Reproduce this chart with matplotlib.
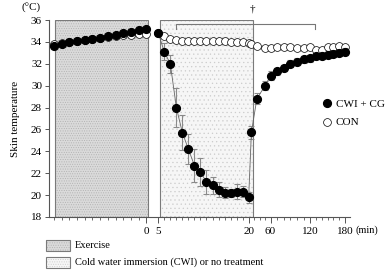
import numpy as np
import matplotlib
matplotlib.use("Agg")
import matplotlib.pyplot as plt
from matplotlib.patches import Rectangle
from matplotlib.lines import Line2D

plt.rcParams['font.family'] = ['Liberation Serif', 'DejaVu Serif']
plt.rcParams['hatch.linewidth'] = 0.4

# exercise phase (min, relative to end of exercise)
ex_time = [-60, -55, -50, -45, -40, -35, -30, -25, -20, -15, -10, -5, 0]
ex_cwi = [33.6, 33.8, 33.95, 34.05, 34.15, 34.25, 34.4, 34.5, 34.6, 34.8, 34.9, 35.05, 35.2]
ex_con = [33.8, 33.9, 34.0, 34.1, 34.2, 34.3, 34.4, 34.45, 34.5, 34.6, 34.65, 34.7, 34.75]

# immersion phase
imm_time = [5, 6, 7, 8, 9, 10, 11, 12, 13, 14, 15, 16, 17, 18, 19, 20]
imm_cwi = [34.8, 33.1, 32.0, 28.0, 25.7, 24.2, 22.7, 22.1, 21.2, 20.9, 20.5, 20.2, 20.2, 20.3, 20.3, 19.8]
imm_cwi_sd = [0.2, 0.8, 0.8, 1.8, 1.6, 1.4, 1.5, 1.3, 1.1, 0.8, 0.7, 0.5, 0.4, 0.7, 0.5, 0.5]
imm_con = [34.8, 34.5, 34.3, 34.2, 34.1, 34.1, 34.1, 34.1, 34.1, 34.1, 34.1, 34.1, 34.0, 34.0, 34.0, 33.9]

# recovery phase
rec_time = [25, 35, 50, 60, 70, 80, 90, 100, 110, 120, 130, 140, 150, 160, 170, 180]
rec_cwi = [25.75, 28.8, 30.0, 30.9, 31.3, 31.6, 32.0, 32.2, 32.4, 32.5, 32.7, 32.75, 32.8, 32.9, 33.0, 33.1]
rec_cwi_sd = [0.6, 0.5, 0.4, 0.4, 0.3, 0.3, 0.3, 0.3, 0.3, 0.3, 0.3, 0.3, 0.3, 0.3, 0.3, 0.3]
rec_con = [33.8, 33.6, 33.4, 33.4, 33.5, 33.5, 33.5, 33.4, 33.4, 33.5, 33.3, 33.3, 33.5, 33.5, 33.6, 33.5]

yticks = [18, 20, 22, 24, 26, 28, 30, 32, 34, 36]


# piecewise axis: each phase gets its own stretch of the x axis
def pos_ex(t):
    return np.interp(t, [-60, 0], [52, 145])


def pos_imm(t):
    return np.interp(t, [5, 20], [157, 248])


def pos_rec(t):
    return np.interp(t, [20, 60, 120, 180], [248, 270, 310, 345])


fig = plt.figure(figsize=(3.89, 2.76), dpi=100)
ax = fig.add_axes([49 / 389, 1 - 217 / 276, 301 / 389, 197 / 276])

# phase boxes
ex_box = (pos_ex(-60) + 1, pos_ex(0) + 2)
imm_box = (pos_imm(5) + 2, pos_imm(20) + 4)
ax.add_patch(Rectangle((ex_box[0], 18), ex_box[1] - ex_box[0], 18, facecolor='#dadada',
                       edgecolor='#b0b0b0', hatch='.......', lw=0, zorder=0))
ax.add_patch(Rectangle((ex_box[0], 18), ex_box[1] - ex_box[0], 18, fill=False,
                       edgecolor='#7a7a7a', lw=0.8, zorder=1))
ax.add_patch(Rectangle((imm_box[0], 18), imm_box[1] - imm_box[0], 18, facecolor='#f6f6f6',
                       edgecolor='#cccccc', hatch='....', lw=0, zorder=0))
ax.add_patch(Rectangle((imm_box[0], 18), imm_box[1] - imm_box[0], 18, fill=False,
                       edgecolor='#7a7a7a', lw=0.8, zorder=1))

ms = 5.6
x_ex = pos_ex(ex_time)
x_cwi = np.concatenate([pos_imm(imm_time), pos_rec(rec_time)])
y_cwi = np.array(imm_cwi + rec_cwi)
sd_cwi = np.array(imm_cwi_sd + rec_cwi_sd)
y_con = np.array(imm_con + rec_con)

# CON
ax.plot(x_ex, ex_con, color='#777777', lw=0.6, marker='o', ms=ms, mfc='white', mec='black', mew=0.5, zorder=3)
ax.plot(x_cwi, y_con, color='#777777', lw=0.6, marker='o', ms=ms, mfc='white', mec='black', mew=0.5, zorder=3)

# CWI + CG
ax.errorbar(x_cwi, y_cwi, yerr=sd_cwi, fmt='none', ecolor='#8a8a8a', elinewidth=0.8, capsize=2, capthick=0.8, zorder=4)
ax.plot(x_ex, ex_cwi, color='#666666', lw=0.6, marker='o', ms=ms, mfc='black', mec='black', zorder=5)
ax.plot(x_cwi, y_cwi, color='#666666', lw=0.6, marker='o', ms=ms, mfc='black', mec='black', zorder=5)

# significance bracket and dagger
bx0, bx1 = pos_imm(8), pos_rec(128)
ax.plot([bx0, bx0, bx1, bx1], [35.2, 35.6, 35.6, 35.2], color='#777777', lw=0.8, clip_on=False)
ax.text(pos_imm(20) + 4, 36.55, '†', ha='center', va='bottom', fontsize=8)

# axes styling
ax.set_xlim(47, 350)
ax.set_ylim(18, 36)
ax.set_yticks(yticks)
for s in ['top', 'right']:
    ax.spines[s].set_visible(False)
for s in ['left', 'bottom']:
    ax.spines[s].set_linewidth(0.8)
    ax.spines[s].set_color('#555555')

major_x = [pos_ex(0), pos_imm(5), pos_imm(20), pos_rec(60), pos_rec(120), pos_rec(180)]
ax.set_xticks(major_x)
ax.set_xticklabels(['0', '5', '20', '60', '120', '180'])
minor_x = np.concatenate([pos_ex(np.arange(-60, 0, 5)), pos_imm(np.arange(6, 20)),
                          pos_rec(np.arange(30, 180, 10))])
ax.set_xticks(minor_x, minor=True)
ax.tick_params(axis='x', which='major', length=4, width=0.7, labelsize=8, pad=3, color='#555555')
ax.tick_params(axis='x', which='minor', length=2, width=0.6, color='#555555')
ax.tick_params(axis='y', length=3, width=0.7, labelsize=8, pad=2, color='#555555')

ax.set_ylabel('Skin temperature', fontsize=8, labelpad=8)
fig.text(22 / 389, 1 - 8 / 276, '(°C)', fontsize=8, va='center', ha='left')
fig.text(356 / 389, 1 - 230 / 276, '(min)', fontsize=7.5, va='center', ha='left')

handles = [Line2D([], [], ls='none', marker='o', ms=ms, mfc='black', mec='black'),
           Line2D([], [], ls='none', marker='o', ms=ms, mfc='white', mec='black', mew=0.5)]
fig.legend(handles, ['CWI + CG', 'CON'], loc='upper left', bbox_to_anchor=(320 / 389, 1 - 99 / 276),
           frameon=False, fontsize=8, handletextpad=0.2, handlelength=1.2, labelspacing=0.8,
           borderaxespad=0, borderpad=0)

# phase key below the chart
for ytop, fc, hc, label in [(240, '#dadada', '#b0b0b0', 'Exercise'),
                            (257, '#f6f6f6', '#cccccc', 'Cold water immersion (CWI) or no treatment')]:
    r = (46 / 389, 1 - (ytop + 11) / 276, 24 / 389, 11 / 276)
    fig.add_artist(Rectangle(r[:2], r[2], r[3], transform=fig.transFigure, facecolor=fc,
                             edgecolor=hc, hatch='.......', lw=0))
    fig.add_artist(Rectangle(r[:2], r[2], r[3], transform=fig.transFigure, fill=False,
                             edgecolor='#7a7a7a', lw=0.8))
    fig.text(75 / 389, 1 - (ytop + 5.5) / 276, label, fontsize=7.5, va='center', ha='left')

fig.savefig('out.png', dpi=100)
